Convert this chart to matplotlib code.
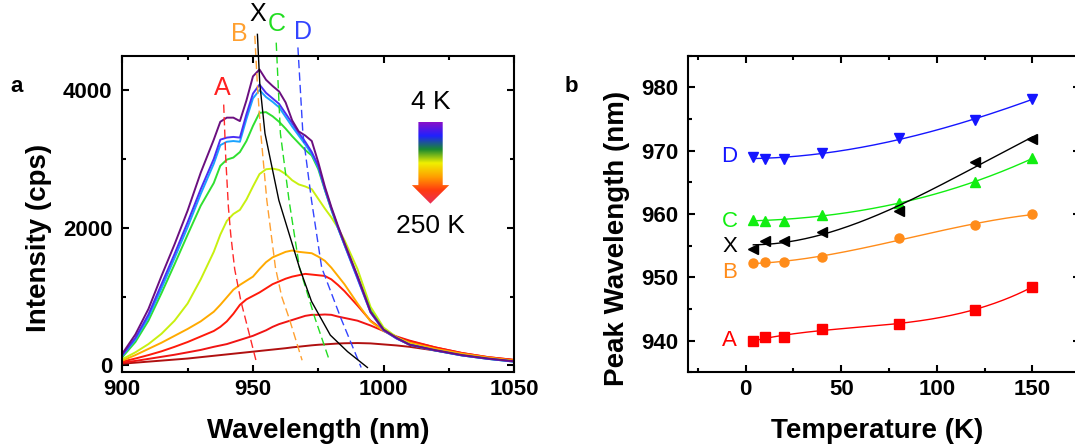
import numpy as np
import matplotlib
matplotlib.use("Agg")
import matplotlib.pyplot as plt
from matplotlib.colors import LinearSegmentedColormap
from matplotlib.patches import Polygon
from matplotlib.ticker import MultipleLocator

plt.rcParams['font.family'] = ['Liberation Sans', 'DejaVu Sans']

# ---- panel a: PL spectra, 4 K (top) ... 250 K (bottom)
wl = [900, 905, 910, 915, 920, 925, 930, 935, 937.5, 940, 942.5, 945, 947.5,
      950, 952.5, 955, 957.5, 960, 962.5, 965, 967.5, 970, 972.5, 975, 977.5,
      980, 982.5, 985, 990, 995, 1000, 1005, 1010, 1020, 1030, 1040, 1050]

spec_purple = [170, 450, 820, 1300, 1760, 2250, 2800, 3280, 3540, 3600, 3600, 3550, 3850,
               4200, 4300, 4150, 4060, 3980, 3820, 3560, 3400, 3340, 3260, 2950, 2600,
               2300, 2030, 1780, 1300, 780, 520, 400, 300, 220, 150, 100, 60]
spec_blue = [150, 400, 740, 1180, 1620, 2080, 2560, 3000, 3280, 3310, 3320, 3310, 3650,
             3950, 4080, 3960, 3880, 3800, 3660, 3520, 3380, 3250, 3100, 2900, 2570,
             2280, 2010, 1760, 1270, 770, 510, 390, 300, 215, 145, 95, 55]
spec_cyan = [140, 375, 700, 1120, 1560, 2010, 2490, 2930, 3200, 3250, 3260, 3250, 3580,
             3880, 4000, 3900, 3830, 3750, 3610, 3470, 3340, 3210, 3070, 2880, 2560,
             2270, 2000, 1750, 1260, 770, 510, 390, 300, 215, 145, 95, 55]
spec_green = [120, 340, 650, 1050, 1470, 1900, 2320, 2650, 2900, 2990, 3020, 3100, 3260,
              3480, 3670, 3680, 3620, 3540, 3440, 3330, 3230, 3130, 3050, 2850, 2550,
              2260, 2000, 1760, 1290, 800, 520, 395, 300, 215, 145, 95, 55]
spec_yellow = [90, 190, 310, 460, 650, 900, 1250, 1650, 1900, 2100, 2200, 2260, 2410,
               2600, 2780, 2850, 2860, 2840, 2780, 2690, 2630, 2600, 2560, 2420, 2280,
               2150, 2000, 1820, 1400, 850, 550, 410, 310, 220, 150, 100, 60]
spec_orange = [70, 150, 240, 330, 430, 530, 640, 780, 880, 990, 1100, 1170, 1230,
               1290, 1400, 1500, 1570, 1610, 1650, 1670, 1650, 1640, 1630, 1580, 1520,
               1420, 1300, 1180, 900, 640, 500, 400, 330, 240, 170, 115, 70]
spec_red1 = [55, 100, 150, 205, 270, 340, 420, 500, 560, 640, 750, 880, 960,
             1010, 1060, 1120, 1180, 1220, 1260, 1290, 1310, 1330, 1320, 1310, 1300,
             1250, 1170, 1080, 870, 650, 510, 410, 350, 260, 180, 120, 80]
spec_red2 = [40, 65, 95, 125, 155, 190, 225, 270, 290, 310, 340, 370, 400,
             430, 470, 510, 560, 600, 630, 660, 690, 720, 735, 735, 740,
             735, 710, 690, 650, 580, 500, 420, 360, 260, 180, 120, 80]
spec_dred = [25, 40, 55, 70, 85, 100, 120, 140, 150, 160, 170, 180, 190,
             200, 210, 220, 230, 240, 250, 262, 272, 282, 292, 300, 306,
             312, 318, 322, 325, 320, 305, 290, 270, 215, 160, 110, 75]

spectra = [spec_dred, spec_red2, spec_red1, spec_orange, spec_yellow,
           spec_green, spec_cyan, spec_blue, spec_purple]
spec_colors = ['#b01010', '#f01414', '#ff1a0a', '#ffaa00', '#c8f010',
               '#30e030', '#1aa3ff', '#4a30f5', '#6b0f7f']

# peak trajectories (wavelength, intensity)
trajA_wl = [938.8, 939.6, 940.6, 941.5, 943.0, 945.4, 948.7, 951.3]
trajA_I = [3790, 3000, 2300, 1900, 1400, 930, 440, 50]
trajB_wl = [950.7, 951.8, 953.0, 955.3, 958.6, 961.0, 963.8, 968.8]
trajB_I = [4790, 4000, 3370, 2400, 1420, 1000, 690, 75]
trajC_wl = [958.9, 960.5, 963.8, 967.8, 973.7, 978.9]
trajC_I = [4690, 3370, 2400, 1420, 690, 110]
trajD_wl = [967.2, 969.1, 972.4, 976.3, 983.6, 991.4]
trajD_I = [4620, 3370, 2400, 1420, 690, -30]
trajX_wl = [951.7, 952.6, 954.6, 959.9, 967.8, 972.4, 979.6, 986.2, 993.8]
trajX_I = [4810, 4100, 3370, 2400, 1420, 930, 440, 200, -30]

# ---- panel b: peak wavelength vs temperature
temps = [4, 10, 20, 40, 80, 120, 150]
peak_A = [940.0, 940.5, 940.5, 941.8, 942.7, 944.9, 948.5]
peak_B = [952.2, 952.4, 952.4, 953.2, 956.2, 958.2, 960.0]
peak_C = [959.1, 958.9, 958.9, 959.9, 961.7, 965.1, 968.8]
peak_X = [954.5, 955.7, 955.7, 957.1, 960.4, 968.2, 971.9]
peak_D = [969.0, 968.7, 968.7, 969.6, 972.0, 974.8, 978.2]
label_y = {'A': 940.0, 'B': 950.8, 'C': 958.8, 'X': 954.8, 'D': 969.1}

W, H = 1075, 444
fig = plt.figure(figsize=(W / 100, H / 100), dpi=100)


def px(x0, y0, x1, y1):
    return [x0 / W, 1 - y1 / H, (x1 - x0) / W, (y1 - y0) / H]


def style_axes(ax):
    for s in ax.spines.values():
        s.set_linewidth(1.5)
    ax.tick_params(which='both', direction='in', top=True, right=True, width=1.5)
    ax.tick_params(which='major', length=5)
    ax.tick_params(which='minor', length=3)
    for lab in ax.get_xticklabels() + ax.get_yticklabels():
        lab.set_fontweight('bold')
        lab.set_fontsize(16)


# ---------------- panel a
ax1 = fig.add_axes(px(122.3, 55.7, 514.3, 372.3))
for s, c in zip(spectra, spec_colors):
    ax1.plot(wl, s, color=c, lw=1.4)

dash = dict(lw=1.0, dashes=(6, 3), clip_on=False)
ax1.plot(trajA_wl, trajA_I, color='#ff2a2a', **dash)
ax1.plot(trajB_wl, trajB_I, color='#ffa030', **dash)
ax1.plot(trajC_wl, trajC_I, color='#22dd22', **dash)
ax1.plot(trajD_wl, trajD_I, color='#3344ff', **dash)
ax1.plot(trajX_wl, trajX_I, color='black', lw=1.0, clip_on=False)

lab_kw = dict(fontsize=18, ha='center', va='center', clip_on=False)
ax1.text(938.2, 4030, 'A', color='#ff2020', **lab_kw)
ax1.text(944.7, 4820, 'B', color='#ffa030', **lab_kw)
ax1.text(951.7, 5110, 'X', color='black', **lab_kw)
ax1.text(959.2, 4960, 'C', color='#22dd22', **lab_kw)
ax1.text(969.1, 4840, 'D', color='#3344ff', **lab_kw)

ax1.text(1017.9, 3830, '4 K', fontsize=19, ha='center', va='center')
ax1.text(1017.9, 2030, '250 K', fontsize=19, ha='center', va='center')

# gradient arrow
sx0, sx1, hx0, hx1, cx = 1013.3, 1022.6, 1010.8, 1025.1, 1017.9
ytop, ybase, ytip = 3540, 2620, 2350
arr_cmap = LinearSegmentedColormap.from_list(
    'arr', ['#8a10c8', '#2020ff', '#1a8a30', '#f0f000', '#ffa000', '#ff3a10', '#e8305a'])
im = ax1.imshow(np.linspace(0, 1, 256).reshape(-1, 1), cmap=arr_cmap, aspect='auto',
                extent=[hx0, hx1, ytip, ytop], origin='upper', zorder=3)
arrow = Polygon([(sx0, ytop), (sx1, ytop), (sx1, ybase), (hx1, ybase), (cx, ytip),
                 (hx0, ybase), (sx0, ybase)], closed=True, transform=ax1.transData)
im.set_clip_path(arrow)

ax1.set_xlim(900, 1050)
ax1.set_ylim(-100, 4500)
ax1.xaxis.set_major_locator(MultipleLocator(50))
ax1.xaxis.set_minor_locator(MultipleLocator(25))
ax1.yaxis.set_major_locator(MultipleLocator(2000))
ax1.yaxis.set_minor_locator(MultipleLocator(1000))
style_axes(ax1)
ax1.tick_params(axis='x', pad=4.5)
ax1.tick_params(axis='y', pad=7)

fig.text(318.5 / W, 1 - 438 / H, 'Wavelength (nm)', fontsize=20, fontweight='bold',
         ha='center', va='baseline')
fig.text(46.5 / W, 1 - 238 / H, 'Intensity (cps)', fontsize=20, fontweight='bold',
         ha='center', va='baseline', rotation=90, rotation_mode='anchor')
fig.text(17 / W, 1 - 86 / H, 'a', fontsize=16, fontweight='bold', ha='center', va='center')

# ---------------- panel b (right spine falls just outside the picture)
ax2 = fig.add_axes(px(688.3, 55.7, 1080.3, 372.3))
tfit = np.linspace(4, 150, 200)
series = [
    (peak_A, '#ff0000', 's', 'A'),
    (peak_B, '#ff8c1a', 'o', 'B'),
    (peak_C, '#11ee11', '^', 'C'),
    (peak_X, 'black', '<', 'X'),
    (peak_D, '#1515ff', 'v', 'D'),
]
for vals, c, m, name in series:
    coef = np.polyfit(temps, vals, 3)
    ax2.plot(tfit, np.polyval(coef, tfit), color=c, lw=1.0)
    ax2.plot(temps, vals, ls='none', marker=m, color=c, ms=6.5)
    ax2.text(-8.4, label_y[name], name, color=c, fontsize=16, ha='center', va='center')

ax2.set_xlim(-30, 175)
ax2.set_ylim(935, 985)
ax2.xaxis.set_major_locator(MultipleLocator(50))
ax2.xaxis.set_minor_locator(MultipleLocator(25))
ax2.yaxis.set_major_locator(MultipleLocator(10))
ax2.yaxis.set_minor_locator(MultipleLocator(5))
style_axes(ax2)
ax2.tick_params(axis='x', pad=4.5)
ax2.tick_params(axis='y', pad=7)

fig.text(877 / W, 1 - 438 / H, 'Temperature (K)', fontsize=20, fontweight='bold',
         ha='center', va='baseline')
fig.text(624 / W, 1 - 238 / H, 'Peak Wavelength (nm)', fontsize=20, fontweight='bold',
         ha='center', va='baseline', rotation=90, rotation_mode='anchor')
fig.text(571 / W, 1 - 86 / H, 'b', fontsize=16, fontweight='bold', ha='center', va='center')

fig.savefig('out.png', dpi=100)
